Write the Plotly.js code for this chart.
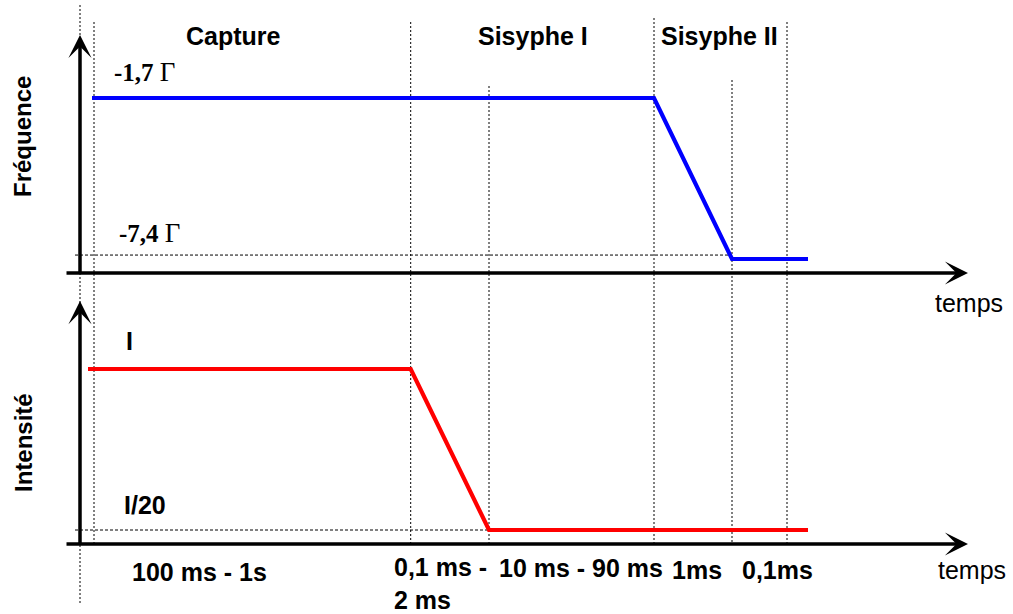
<!DOCTYPE html>
<html>
<head>
<meta charset="utf-8">
<script src="https://cdn.plot.ly/plotly-3.0.1.min.js"></script>
<style>html,body{margin:0;padding:0;background:#fff;}#chart{width:1013px;height:614px;}</style>
</head>
<body>
<div id="chart"></div>
<script>
// ---- data (schematic time units) ----
var phaseNames = ["Capture", "Sisyphe I", "Sisyphe II"];
var phaseLabelX = [15.3, 45.3, 63.9];
var timeMarks = [0, 1.4, 33.07, 40.9, 57.4, 65.2, 70.7];
var freqTimes = [1.2, 57.4, 65.2, 72.8];
var freqValues = [-1.7, -1.7, -7.4, -7.4];
var freqLevelLabels = ["-1,7", "-7,4"];
var intTimes = [0.8, 33.07, 40.9, 72.8];
var intValues = [1, 1, 0.05, 0.05];
var intLevelLabels = ["I", "I/20"];
var durationLabels = ["100 ms - 1s", "0,1 ms -<br>2 ms", "10 ms - 90 ms", "1ms", "0,1ms"];

// ---- layout helpers ----
var H = 614;
function py(px) { return 1 - px / H; }
var SANS = "Liberation Sans, Arial, sans-serif";
var SERIF = "Liberation Serif, Times New Roman, serif";

var traces = [
  {x: freqTimes, y: freqValues, xaxis: "x", yaxis: "y", mode: "lines",
   line: {color: "#0000ff", width: 4.2}, hoverinfo: "skip"},
  {x: intTimes, y: intValues, xaxis: "x", yaxis: "y2", mode: "lines",
   line: {color: "#ff0000", width: 4.2}, hoverinfo: "skip"}
];

// dotted vertical markers: [top px, bottom px]
var markExtent = [[5, 605], [22, 543], [22, 543], [86, 543], [18, 543], [80, 543], [22, 543]];
var shapes = [];
timeMarks.forEach(function (t, i) {
  shapes.push({type: "line", xref: "x", yref: "paper", x0: t, x1: t,
    y0: py(markExtent[i][0]), y1: py(markExtent[i][1]),
    line: {color: "#000", width: 1, dash: "2px,2px"}, layer: "below"});
});
// dashed reference lines for the low levels
shapes.push({type: "line", xref: "x", yref: "y", x0: -0.5, x1: freqTimes[2],
  y0: freqValues[2] + 0.14, y1: freqValues[2] + 0.14,
  line: {color: "#000", width: 1, dash: "3px,2px"}, layer: "below"});
shapes.push({type: "line", xref: "x", yref: "y2", x0: -0.5, x1: intTimes[2],
  y0: intValues[2], y1: intValues[2],
  line: {color: "#000", width: 1, dash: "3px,2px"}, layer: "below"});

var yAxisTopBase = -7.896, yAxisBotBase = -0.0326;
function arrow(x, y, ax, ay, yr, head) {
  return {x: x, y: y, ax: ax, ay: ay, xref: "x", yref: yr, axref: "x", ayref: yr,
    text: "", showarrow: true, arrowhead: head, arrowwidth: 3.5, arrowsize: 1.1,
    arrowcolor: "#000", standoff: 0, startstandoff: 0};
}
var ann = [
  arrow(0, 0.53, 0, yAxisTopBase - 0.05, "y", 3),
  arrow(88.8, yAxisTopBase, -1.5, yAxisTopBase, "y", 3),
  arrow(0, 1.401, 0, yAxisBotBase - 0.01, "y2", 3),
  arrow(88.8, yAxisBotBase, -1.5, yAxisBotBase, "y2", 3)
];
function txt(t, x, yPx, opts) {
  var a = {text: t, x: x, y: py(yPx), xref: "x", yref: "paper", showarrow: false,
    xanchor: "center", yanchor: "middle",
    font: {family: SANS, size: 25, color: "#000"}};
  for (var k in opts) a[k] = opts[k];
  return a;
}
var F25 = {family: SANS, size: 25, color: "#000"};
phaseNames.forEach(function (p, i) {
  ann.push(txt("<b>" + p + "</b>", phaseLabelX[i], 36));
});
ann.push(txt("<b>Fréquence</b>", -5.8, 137, {textangle: -90, font: {family: SANS, size: 24, color: "#000"}}));
ann.push(txt("<b>Intensité</b>", -5.7, 443, {textangle: -90, font: {family: SANS, size: 24, color: "#000"}}));
ann.push(txt("<b>" + freqLevelLabels[0] + "</b> <span style=\"font-size:27px\">Γ</span>", 3.2, 72, {xanchor: "left", font: {family: SERIF, size: 25, color: "#000"}}));
ann.push(txt("<b>" + freqLevelLabels[1] + "</b> <span style=\"font-size:27px\">Γ</span>", 3.7, 233, {xanchor: "left", font: {family: SERIF, size: 25, color: "#000"}}));
ann.push(txt("<b>" + intLevelLabels[0] + "</b>", 4.9, 341, {font: F25}));
ann.push(txt("<b>" + intLevelLabels[1] + "</b>", 4.2, 505, {xanchor: "left", font: F25}));
ann.push(txt("temps", 88.9, 303, {font: F25}));
ann.push(txt("temps", 89.2, 570, {font: F25}));
ann.push(txt("<b>" + durationLabels[0] + "</b>", 11.9, 572, {font: F25}));
ann.push(txt("<b>" + durationLabels[1] + "</b>", 31.2, 583, {xanchor: "left", align: "left", font: F25}));
ann.push(txt("<b>" + durationLabels[2] + "</b>", 41.7, 568, {xanchor: "left", font: F25}));
ann.push(txt("<b>" + durationLabels[3] + "</b>", 61.7, 570, {font: F25}));
ann.push(txt("<b>" + durationLabels[4] + "</b>", 69.7, 570, {font: F25}));

var layout = {
  width: 1013, height: 614,
  margin: {l: 0, r: 0, t: 0, b: 0, pad: 0},
  paper_bgcolor: "#fff", plot_bgcolor: "#fff",
  showlegend: false,
  xaxis: {range: [-8, 93.3], visible: false, fixedrange: true},
  yaxis: {domain: [314 / 614, 1], range: [-8.851, 1.769], visible: false, fixedrange: true},
  yaxis2: {domain: [0, 314 / 614], range: [-0.4457, 1.4072], visible: false, fixedrange: true, anchor: "x"},
  shapes: shapes,
  annotations: ann
};
Plotly.newPlot("chart", traces, layout, {staticPlot: true, displayModeBar: false});
</script>
</body>
</html>
